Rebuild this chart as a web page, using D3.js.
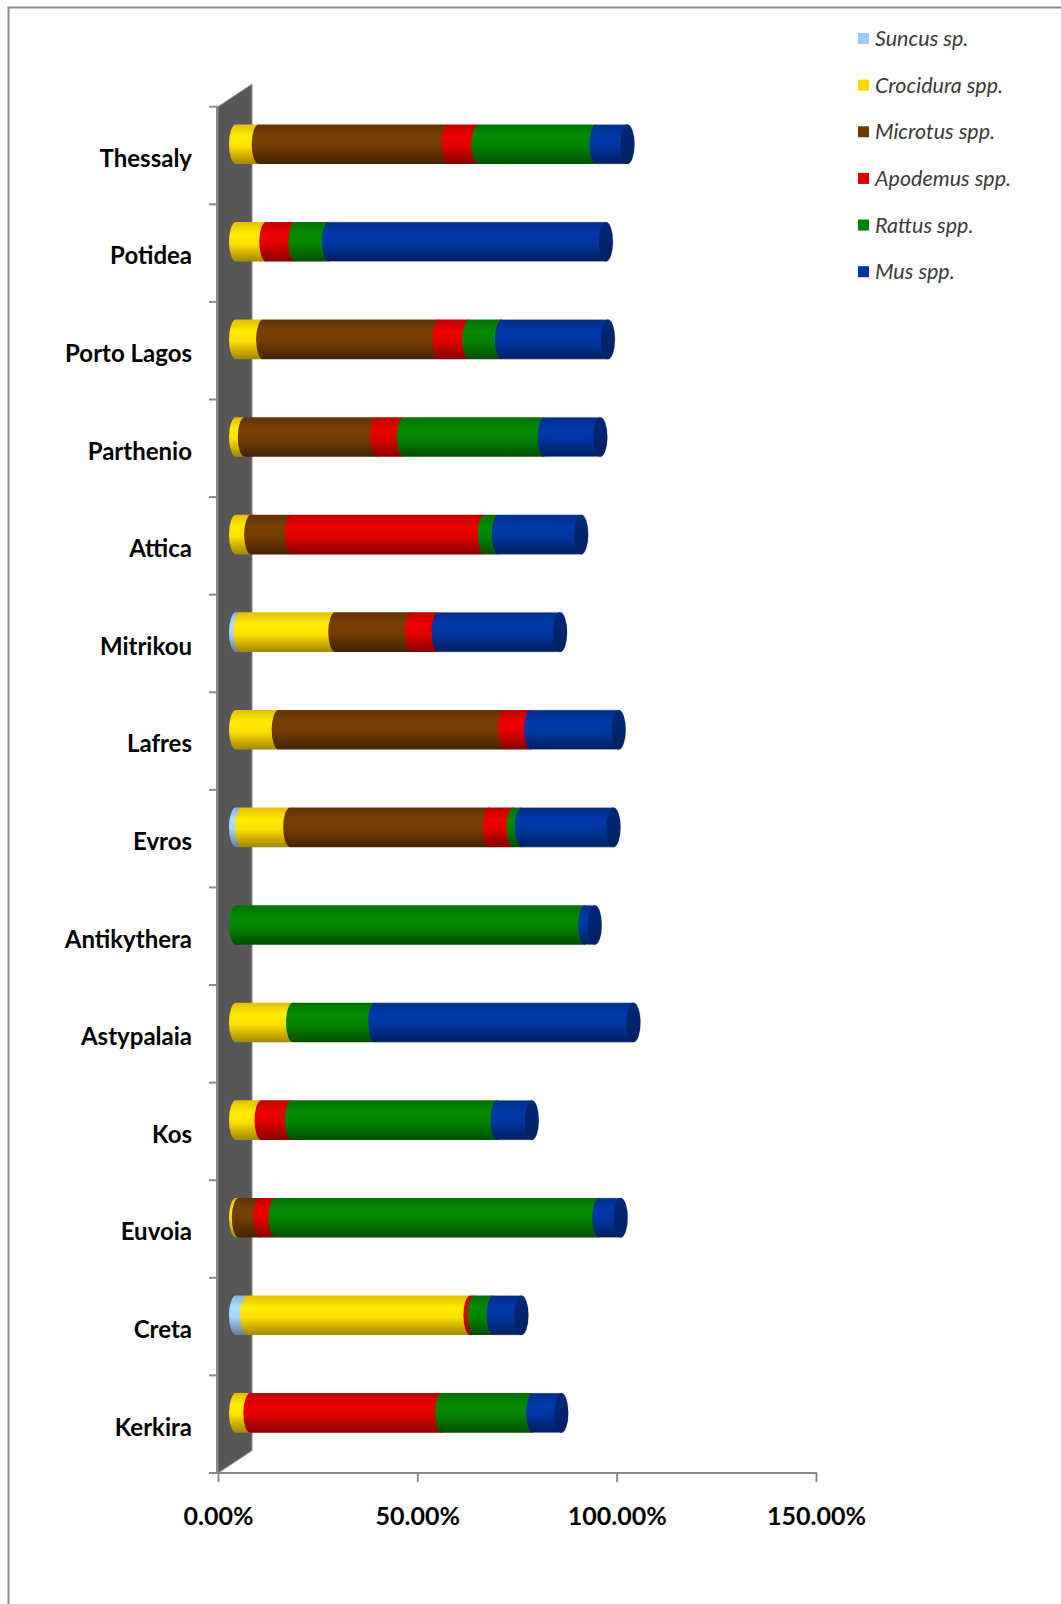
<!DOCTYPE html>
<html><head><meta charset="utf-8">
<script src="https://cdn.jsdelivr.net/npm/d3@7"></script>
<style>
html,body{margin:0;padding:0;background:#fff;}
svg{display:block;}
</style></head>
<body>
<svg id="chart" width="1061" height="1604"></svg>
<script>
// ---- data (percent) ----
const categories = ["Thessaly","Potidea","Porto Lagos","Parthenio","Attica","Mitrikou","Lafres","Evros","Antikythera","Astypalaia","Kos","Euvoia","Creta","Kerkira"];
const seriesNames = ["Suncus sp.","Crocidura spp.","Microtus spp.","Apodemus spp.","Rattus spp.","Mus spp."];
const suncus    = [0,   0,   0,   0,   0,   1.1, 0,   1.5, 0,   0,   0,   0,   2.8, 0];
const crocidura = [5.7, 7.6, 6.8, 2.2, 3.8, 23.8,10.7,12.1,0,   14.3,6.4, 0.7, 56.0,3.6];
const microtus  = [47.6,0,   44.2,33.2,10.2,19.2,56.7,50.0,0,   0,   0,   5.4, 0,   0];
const apodemus  = [7.5, 7.3, 7.5, 6.7, 48.4,6.7, 6.6, 6.0, 0,   0,   7.6, 3.8, 1.0, 48.1];
const rattus    = [29.6,8.4, 8.2, 35.3,3.5, 0,   0,   2.1, 87.6,20.6,51.6,81.2,4.8, 22.8];
const mus       = [7.8, 69.5,26.6,14.0,20.7,30.5,22.0,23.0,2.4, 64.8,8.6, 5.4, 7.0, 7.1];
const tickValues = [0, 50, 100, 150];
const colors = ["#9DCCF8","#FFD800","#6E3A04","#D80000","#037F03","#00349C"];

const seriesValues = [suncus, crocidura, microtus, apodemus, rattus, mus];
const table = categories.map((c,i)=>{
  const o = {category:c};
  seriesNames.forEach((s,k)=>o[s]=seriesValues[k][i]);
  return o;
});

const svg = d3.select("#chart");
const defs = svg.append("defs");

// border
svg.append("rect").attr("x",8.5).attr("y",7.5).attr("width",1100).attr("height",1700)
  .attr("fill","none").attr("stroke","#8a8a8a").attr("stroke-width",2);

const x = d3.scaleLinear().domain([0,150]).range([218,816]);
const y = d3.scaleBand().domain(categories).range([106.7,1473]);
const DX = 34, DY = -22.5;          // full depth of the 3D plot
const bdx = 18, bdy = -11.3;         // bar at mid depth
const barH = y.bandwidth()*0.406;
const rx = 7;

// gradients
colors.forEach((c,k)=>{
  const g = defs.append("linearGradient").attr("id","g"+k).attr("x1",0).attr("y1",0).attr("x2",0).attr("y2",1);
  const base = d3.color(c);
  g.append("stop").attr("offset","0%").attr("stop-color", base.darker(0.35));
  g.append("stop").attr("offset","30%").attr("stop-color", base.brighter(0.25));
  g.append("stop").attr("offset","55%").attr("stop-color", base.brighter(0.1));
  g.append("stop").attr("offset","85%").attr("stop-color", base.darker(0.8));
  g.append("stop").attr("offset","100%").attr("stop-color", base.darker(1.3));
  const gc = defs.append("linearGradient").attr("id","c"+k).attr("x1",0).attr("y1",0).attr("x2",0).attr("y2",1);
  gc.append("stop").attr("offset","0%").attr("stop-color", base.darker(0.7));
  gc.append("stop").attr("offset","100%").attr("stop-color", base.darker(1.3));
});

// wall (side wall)
const y0 = y.range()[0], y1 = y.range()[1];
svg.append("path")
  .attr("d", `M${x(0)},${y0} L${x(0)+DX},${y0+DY} L${x(0)+DX},${y1+DY} L${x(0)},${y1} Z`)
  .attr("fill","#575757").attr("stroke","#8c8c8c").attr("stroke-width",1);

// y axis line and ticks
const axisColor = "#8a8a8a";
svg.append("line").attr("x1",x(0)-1).attr("x2",x(0)-1).attr("y1",y0).attr("y2",y1)
  .attr("stroke",axisColor).attr("stroke-width",2);
const bounds = categories.map(c=>y(c)).concat([y1]);
svg.selectAll(".ytick").data(bounds).join("line")
  .attr("x1",x(0)-9).attr("x2",x(0)).attr("y1",d=>d).attr("y2",d=>d)
  .attr("stroke",axisColor).attr("stroke-width",2);

// x axis
svg.append("line").attr("x1",x(0)-9).attr("x2",x(150)+1).attr("y1",y1).attr("y2",y1)
  .attr("stroke",axisColor).attr("stroke-width",2);
const xAxis = d3.axisBottom(x).tickValues(tickValues).tickFormat(d=>d.toFixed(2)+"%").tickSize(9).tickPadding(25).tickSizeOuter(0);
const gx = svg.append("g").attr("transform",`translate(0,${y1})`).call(xAxis);
gx.select(".domain").remove();
gx.selectAll(".tick line").attr("stroke",axisColor).attr("stroke-width",2);
gx.selectAll(".tick text").attr("font-family","Lato, 'Open Sans', sans-serif").attr("font-weight","bold")
  .attr("font-size",25).attr("fill","#000");

// category labels
svg.selectAll(".clabel").data(categories).join("text")
  .attr("x",192).attr("y",d=>y(d)+y.bandwidth()/2+3).attr("dy","0.35em")
  .attr("text-anchor","end").attr("font-family","Lato, 'Open Sans', sans-serif")
  .attr("font-weight","bold").attr("font-size",24).attr("fill","#000").text(d=>d);

// stacked bars
const stack = d3.stack().keys(seriesNames);
const stacked = stack(table);
const segs = [];
stacked.forEach((layer,k)=>layer.forEach(d=>{
  if (d[1]-d[0] > 0) segs.push({k, cat:d.data.category, v0:d[0], v1:d[1]});
}));
const barsG = svg.append("g");
categories.forEach(cat=>{
  const s = segs.filter(d=>d.cat===cat);
  const cy = y(cat)+y.bandwidth()/2+bdy;
  const top = cy-barH/2, bot = cy+barH/2, ry = barH/2;
  s.forEach((d,i)=>{
    const xa = x(d.v0)+bdx, xb = x(d.v1)+bdx;
    barsG.append("path")
      .attr("d",`M${xb},${top} L${xa},${top} A${rx},${ry} 0 0 0 ${xa},${bot} L${xb},${bot} Z`)
      .attr("fill",`url(#g${d.k})`);
    if (i===s.length-1) {
      barsG.append("path")
        .attr("d",`M${xa},${top} L${xb},${top} A${rx},${ry} 0 0 1 ${xb},${bot} L${xa},${bot}`)
        .attr("fill","none").attr("stroke","#b8b8b8").attr("stroke-width",0.8).attr("stroke-opacity",0.7);
      barsG.append("ellipse").attr("cx",xb).attr("cy",cy).attr("rx",rx).attr("ry",ry)
        .attr("fill",`url(#c${d.k})`);
    }
  });
});

// legend
const lg = svg.append("g");
const legY = d3.scalePoint().domain(seriesNames).range([38.5,271.7]);
seriesNames.forEach((s,k)=>{
  lg.append("rect").attr("x",858).attr("y",legY(s)-5.5).attr("width",11).attr("height",11).attr("fill",colors[k]);
  lg.append("text").attr("x",875).attr("y",legY(s)).attr("dy","0.35em")
    .attr("font-family","Lato, 'Open Sans', sans-serif").attr("font-style","italic")
    .attr("font-size",21.5).attr("fill","#3a3a3a").text(s);
});
</script>
</body></html>
